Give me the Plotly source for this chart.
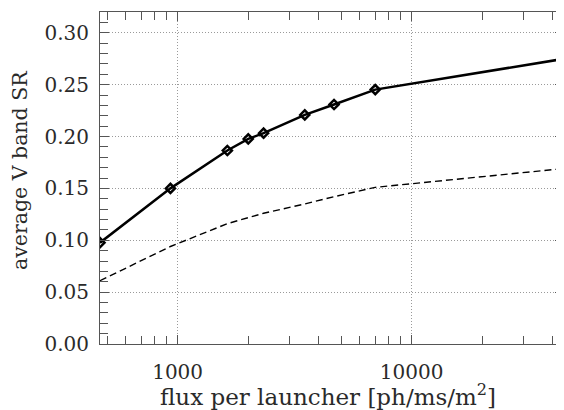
import numpy as np
import plotly.graph_objects as go

# Data
flux = [466, 932, 1631, 2004, 2330, 3495, 4660, 6990, 46600]
sr_solid = [0.0977, 0.150, 0.1865, 0.1977, 0.2032, 0.2208, 0.2308, 0.2452, 0.2755]
sr_dashed = [0.061, 0.094, 0.116, 0.122, 0.126, 0.135, 0.142, 0.151, 0.1695]

x_major = [1000, 10000]
x_major_text = ["1000", "10000"]
x_minor = [500, 600, 700, 800, 900, 2000, 3000, 4000, 5000, 6000, 7000, 8000, 9000,
           20000, 30000, 40000]

x_title = "flux per launcher [ph/ms/m<sup>2</sup>]"
y_title = "average V band SR"

FONT = "DejaVu Serif"
AX = "#555555"
GRID = "#9a9a9a"

fig = go.Figure()
fig.add_trace(go.Scatter(
    x=flux, y=sr_dashed, mode="lines",
    line=dict(color="black", width=1.4, dash="7px,4px"),
    showlegend=False,
))
fig.add_trace(go.Scatter(
    x=flux, y=sr_solid, mode="lines+markers",
    line=dict(color="black", width=2.5),
    marker=dict(symbol="diamond-open", size=7, color="black", line=dict(width=2.5, color="black")),
    showlegend=False,
))

# page body has an 8px margin, so the figure is sized to fill the rest of the window
fig.update_layout(
    width=556, height=402,
    margin=dict(l=92, r=0, t=4, b=66),
    paper_bgcolor="white", plot_bgcolor="white",
    font=dict(family=FONT, size=20, color="#2a2a2a"),
    xaxis=dict(
        type="log", automargin=False,
        range=[np.log10(466), 4.651],
        tickmode="array", tickvals=x_major, ticktext=x_major_text,
        ticks="inside", ticklen=9, tickcolor=AX, tickwidth=1,
        showline=True, linecolor=AX, linewidth=1, mirror="allticks",
        showgrid=True, gridcolor=GRID, griddash="1px,2px", gridwidth=1,
        minor=dict(tickmode="array", tickvals=x_minor, ticks="inside", ticklen=8,
                   tickcolor=AX, showgrid=False),
        ticklabelstandoff=10,
        zeroline=False,
    ),
    yaxis=dict(
        automargin=False,
        range=[0, 0.32],
        tickmode="linear", tick0=0, dtick=0.05, tickformat=".2f",
        ticks="inside", ticklen=9, tickcolor=AX, tickwidth=1,
        showline=True, linecolor=AX, linewidth=1, mirror="allticks",
        showgrid=True, gridcolor=GRID, griddash="1px,2px", gridwidth=1,
        minor=dict(tick0=0, dtick=0.01, ticks="inside", ticklen=8, tickcolor=AX, showgrid=False),
        ticklabelstandoff=6,
        zeroline=False,
    ),
    annotations=[
        dict(text=x_title, xref="paper", yref="paper", x=0.491, y=0,
             xanchor="center", yanchor="middle", yshift=-51, showarrow=False,
             font=dict(size=23)),
        dict(text=y_title, xref="paper", yref="paper", x=0, y=0.521,
             xanchor="center", yanchor="middle", xshift=-80, textangle=-90,
             showarrow=False, font=dict(size=20.5)),
    ],
)

fig.write_html("out.html")
